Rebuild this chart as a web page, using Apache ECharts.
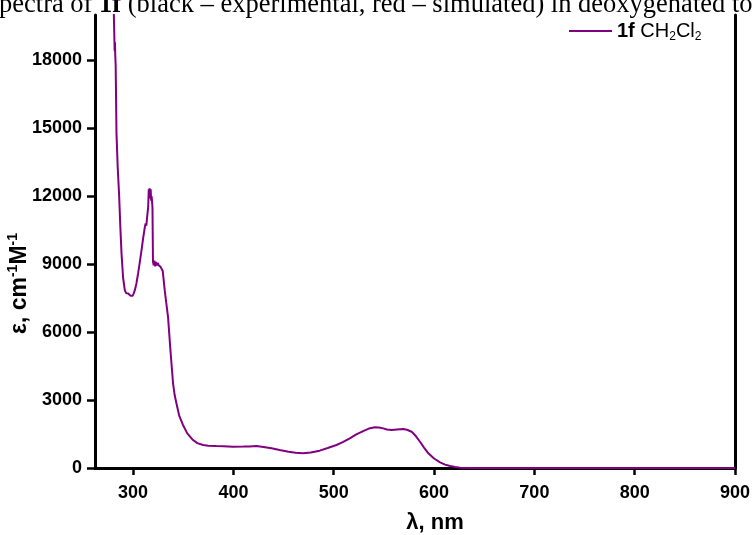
<!DOCTYPE html>
<html>
<head>
<meta charset="utf-8">
<script src="https://cdn.jsdelivr.net/npm/echarts@6/dist/echarts.min.js"></script>
<style>
html,body{margin:0;padding:0;background:#fff;}
#chart{width:753px;height:535px;}
</style>
</head>
<body>
<div id="chart"></div>
<script>
// Wavelength (nm)
var wavelengths = [280.0,280.8,281.3,281.6,281.9,282.2,282.6,283.4,284.6,286.0,287.2,288.4,290.0,291.7,293.0,294.0,295.0,296.5,297.5,298.4,299.5,300.5,301.7,303.3,305.0,306.7,308.4,310.0,311.7,312.5,313.2,314.0,315.0,315.6,316.0,316.4,317.0,317.5,318.0,318.5,319.3,319.8,320.5,321.2,322.0,322.8,323.6,324.5,325.5,326.5,327.5,328.5,329.5,331.5,333.0,334.8,337.2,339.8,341.5,343.2,346.0,349.7,354.0,359.7,364.0,369.7,375.0,383.0,390.0,399.6,410.0,416.0,422.7,430.0,438.0,446.0,455.0,462.0,469.3,477.0,486.0,494.0,502.7,509.0,516.0,522.0,529.3,535.0,541.0,545.0,549.3,553.0,557.7,563.0,569.3,573.0,577.7,582.0,586.0,590.0,594.3,600.0,606.0,611.0,616.0,621.0,626.0,635.0,650.0,700.0,750.0,800.0,850.0,900.0];
// Molar absorptivity (cm^-1 M^-1)
var epsilon = [21500,20000,19000,18400,18800,18200,17800,14800,13300,12100,10700,9500,8400,7850,7720,7800,7700,7750,7600,7650,7600,7700,7850,8150,8600,9100,9620,10150,10640,10800,10700,11100,11520,12300,11900,12350,12000,12300,11800,12000,11500,9100,8950,9150,8900,9100,8950,9050,8950,8980,8870,8880,8700,7850,7300,6670,5200,3740,3200,2850,2300,1900,1530,1235,1100,1015,985,970,960,940,945,950,970,930,870,795,720,670,650,680,765,880,1015,1140,1310,1470,1630,1740,1795,1790,1750,1700,1675,1700,1720,1690,1600,1400,1160,900,650,420,250,150,85,40,15,5,0,0,0,0,0,0];
var xTicks = [300,400,500,600,700,800,900];
var yTicks = [0,3000,6000,9000,12000,15000,18000];
var seriesName = '1f CH2Cl2';
var caption = 'pectra of {b|1f} (black – experimental, red – simulated) in deoxygenated toluene';

var data = wavelengths.map(function(w,i){return [w, epsilon[i]];});
var chart = echarts.init(document.getElementById('chart'));
var SANS = 'Liberation Sans, Arial, sans-serif';
var labelFont = {fontFamily:SANS, fontWeight:'bold', fontSize:18, color:'#000'};
chart.setOption({
  animation:false,
  backgroundColor:'#fff',
  grid:{left:95,right:18,top:15,bottom:67,containLabel:false,outerBoundsMode:'none'},
  legend:{
    left:569,top:21,padding:0,
    icon:'rect',itemWidth:43,itemHeight:2,
    data:[seriesName],
    formatter:function(){return '{b|1f} CH{s|2}Cl{s|2}';},
    textStyle:{fontFamily:SANS,fontSize:20,color:'#000',
      rich:{b:{fontWeight:'bold',fontSize:20,fontFamily:SANS,color:'#000'},
            s:{fontSize:12,padding:[12,0,0,0],fontFamily:SANS,color:'#000'}}}
  },
  xAxis:[{
    type:'value',min:262,max:900,position:'bottom',
    name:'λ, nm',nameLocation:'middle',nameGap:44,nameMoveOverlap:false,
    nameTextStyle:{fontFamily:SANS,fontWeight:'bold',fontSize:22,color:'#000',padding:[0,0,0,40]},
    axisLine:{lineStyle:{color:'#000',width:3}},
    axisTick:{customValues:xTicks,length:7,lineStyle:{color:'#000',width:2.5}},
    axisLabel:Object.assign({customValues:xTicks,margin:16,formatter:function(v){return String(v);}},labelFont),
    splitLine:{show:false}
  },{
    type:'value',min:262,max:900,position:'top',
    axisLine:{lineStyle:{color:'#000',width:3}},
    axisTick:{customValues:xTicks,length:3,inside:true,lineStyle:{color:'#000',width:1}},
    axisLabel:{show:false},splitLine:{show:false}
  }],
  yAxis:[{
    type:'value',min:0,max:20000,position:'left',
    name:'{b|ε, cm}{s|-1}{b|M}{s|-1}',nameLocation:'middle',nameGap:62,nameRotate:90,nameMoveOverlap:false,
    nameTextStyle:{color:'#000',padding:[0,84,0,0],
      rich:{b:{fontFamily:SANS,fontWeight:'bold',fontSize:23,color:'#000'},
            s:{fontFamily:SANS,fontWeight:'bold',fontSize:14,color:'#000',padding:[0,0,13,0]}}},
    axisLine:{lineStyle:{color:'#000',width:3}},
    axisTick:{customValues:yTicks,length:8,lineStyle:{color:'#000',width:2.5}},
    axisLabel:Object.assign({customValues:yTicks,margin:13,formatter:function(v){return String(v);}},labelFont),
    splitLine:{show:false}
  },{
    type:'value',min:0,max:20000,position:'right',
    axisLine:{show:true,lineStyle:{color:'#000',width:3}},
    axisTick:{show:false},axisLabel:{show:false},splitLine:{show:false}
  }],
  series:[{
    name:seriesName,type:'line',data:data,showSymbol:false,symbol:'none',
    xAxisIndex:0,yAxisIndex:0,clip:true,
    lineStyle:{color:'#800080',width:2},itemStyle:{color:'#800080'}
  }],
  graphic:[{
    type:'text',left:-1,top:-8,silent:true,
    style:{text:caption,fontFamily:'Liberation Serif, Times New Roman, serif',fontSize:26.5,fill:'#000',
      rich:{b:{fontWeight:'bold',fontSize:26.5,fontFamily:'Liberation Serif, Times New Roman, serif'}}}
  }]
});
</script>
</body>
</html>
